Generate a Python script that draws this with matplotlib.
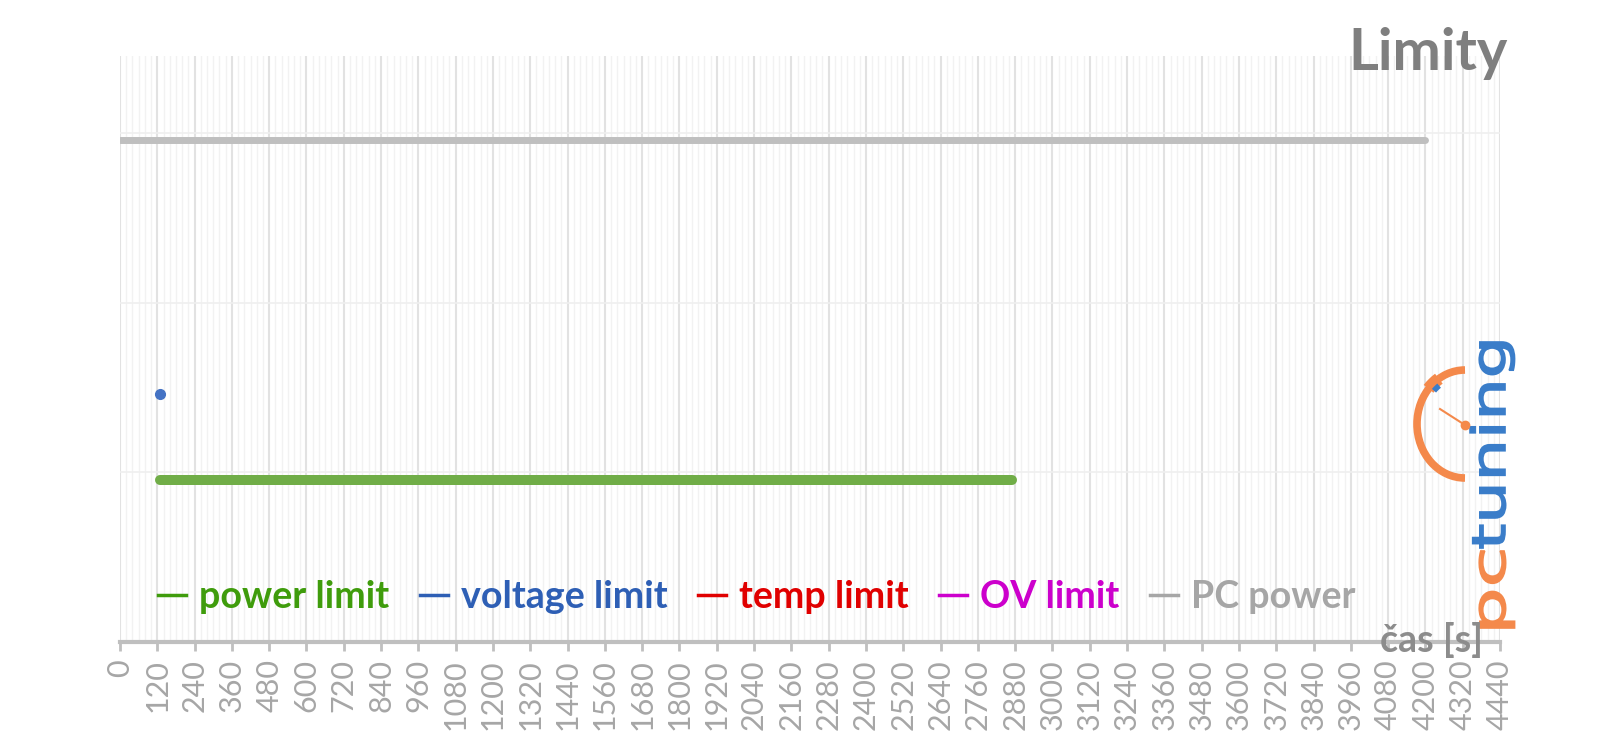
import numpy as np
import matplotlib
matplotlib.use("Agg")
import matplotlib.pyplot as plt
from matplotlib.lines import Line2D
from matplotlib.patches import Arc, PathPatch
from matplotlib.textpath import TextPath
from matplotlib.font_manager import FontProperties
from matplotlib.transforms import Affine2D

plt.rcParams['font.family'] = ['Lato', 'DejaVu Sans']

# data
pc_power_x = [0, 4200]
pc_power_y = [2.96, 2.96]
power_limit_x = [130, 2870]
power_limit_y = [0.956, 0.956]
voltage_limit_x = [130]
voltage_limit_y = [1.463]
temp_limit_x = []
temp_limit_y = []
ov_limit_x = []
ov_limit_y = []

names = ["power limit", "voltage limit", "temp limit", "OV limit", "PC power"]
colors = ["#70ad47", "#4472c4", "#e00000", "#cc00cc", "#bfbfbf"]
text_colors = ["#3f9c0c", "#2e5fb5", "#e00000", "#cc00cc", "#a6a6a6"]
xticks = np.arange(0, 4441, 120)

W, H = 1600, 738
fig = plt.figure(figsize=(16, 7.38), dpi=100)
ax = fig.add_axes([120/W, 1-642/H, 1380/W, 586/H])

ax.plot(pc_power_x, pc_power_y, color=colors[4], lw=5, solid_capstyle='round', zorder=3)
ax.plot(power_limit_x, power_limit_y, color=colors[0], lw=7.2, solid_capstyle='round', zorder=4)
ax.plot(voltage_limit_x, voltage_limit_y, 'o', color=colors[1], ms=7, zorder=5)
ax.plot(temp_limit_x, temp_limit_y, color=colors[2])
ax.plot(ov_limit_x, ov_limit_y, color=colors[3])

ax.set_xlim(0, 4440)
ax.set_ylim(0, 3.457)
ax.set_xticks(xticks)
ax.set_xticklabels([str(v) for v in xticks], rotation=90, fontsize=22, color='#a6a6a6')
ax.set_xticks(np.arange(0, 4441, 20), minor=True)
ax.set_yticks([1, 2, 3])
ax.tick_params(axis='y', left=False, labelleft=False)
ax.tick_params(axis='x', which='major', length=6.5, width=2, color='#bfbfbf', pad=6)
ax.tick_params(axis='x', which='minor', length=0)
ax.grid(True, which='major', axis='x', color='#e2e2e2', lw=1.5)
ax.grid(True, which='minor', axis='x', color='#f2f2f2', lw=1)
ax.grid(True, which='major', axis='y', color='#efefef', lw=1.2)
for s in ['top', 'right', 'left']:
    ax.spines[s].set_visible(False)
ax.spines['bottom'].set_color('#bfbfbf')
ax.spines['bottom'].set_linewidth(3)

handles = [Line2D([], [], color=c, lw=2.5) for c in text_colors]
leg = fig.legend(handles, names, loc='center left', bbox_to_anchor=(158/W, 1-597/H),
                 ncol=5, frameon=False, handlelength=0.75, handletextpad=0.35,
                 columnspacing=0.8, borderpad=0, borderaxespad=0,
                 prop={'weight': 'bold', 'size': 27.1})
for t, c in zip(leg.get_texts(), text_colors):
    t.set_color(c)

fig.text(1508/W, 1-27/H, "Limity", ha='right', va='top', fontsize=41.5,
         fontweight='bold', color='#7f7f7f')
fig.text(1380/W, 1-640/H, "čas [s]", ha='left', va='center', fontsize=27,
         fontweight='bold', color='#8c8c8c', zorder=10)

# pctuning logo, drawn in figure pixel coordinates (y downwards)
lg = fig.add_axes([0, 0, 1, 1], zorder=5)
lg.set_xlim(0, W)
lg.set_ylim(H, 0)
lg.axis('off')
lg.patch.set_alpha(0)
lg.add_patch(Arc((1465, 424), 96, 108, theta1=90, theta2=270, color='#f4894b', lw=5.5))
lg.add_patch(Arc((1465, 424), 96, 108, theta1=224, theta2=240, color='#f4894b', lw=9))
lg.add_patch(Arc((1465, 424), 86, 96, theta1=227, theta2=236, color='#3a7dc9', lw=4))
lg.plot([1440, 1465], [409, 425], color='#f4894b', lw=1.5)
lg.plot([1465], [425], 'o', color='#f4894b', ms=6)


def vtext(s, color, base_x, y_start, y_end, em=46):
    tp = TextPath((0, 0), s, size=1, prop=FontProperties(family='DejaVu Sans'))
    ext = tp.get_extents()
    s2 = (y_start - y_end) / (ext.x1 - ext.x0)
    tr = Affine2D(np.array([[0, -em, base_x],
                            [-s2, 0, y_start + ext.x0 * s2],
                            [0, 0, 1]]))
    lg.add_patch(PathPatch(tr.transform_path(tp), facecolor=color, edgecolor=color, lw=1.2))


vtext("pc", '#f4894b', 1505, 628, 551)
vtext("tuning", '#3a7dc9', 1505, 548, 342)

fig.savefig("out.png", dpi=100)
